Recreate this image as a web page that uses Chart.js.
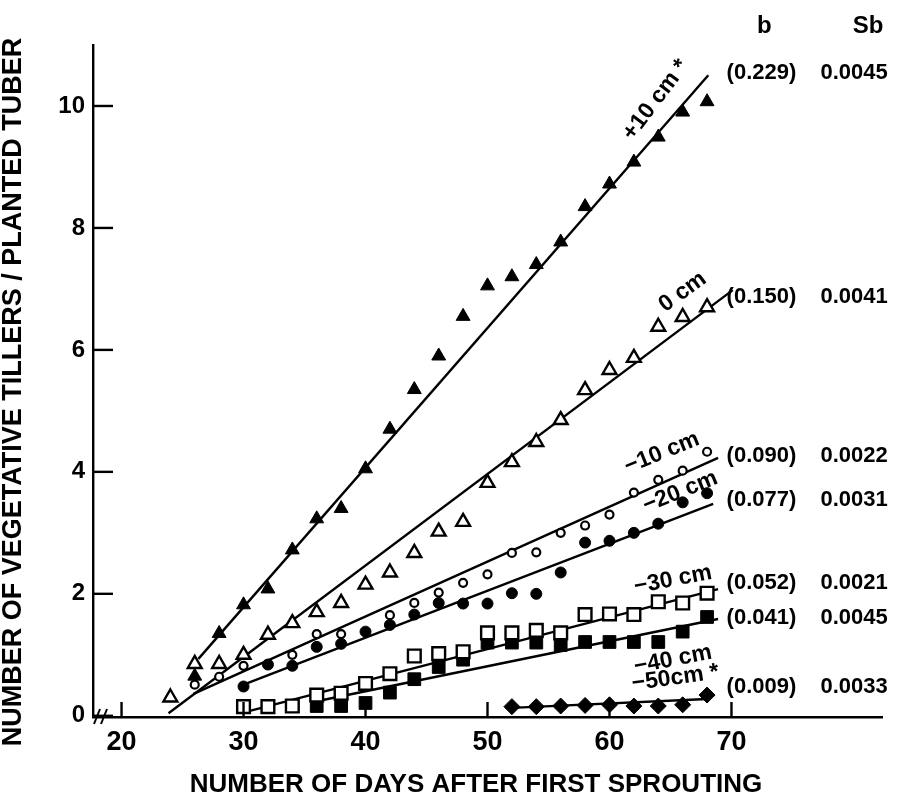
<!DOCTYPE html>
<html><head><meta charset="utf-8">
<script src="https://cdn.jsdelivr.net/npm/chart.js@4.4.1/dist/chart.umd.min.js"></script>
<style>html,body{margin:0;padding:0;background:#fff}#wrap{width:912px;height:803px;position:relative}</style>
</head><body><div id="wrap"><canvas id="c" width="912" height="803"></canvas></div>
<script>
// ---- data ----
const plus10Days = [26,28,30,32,34,36,38,40,42,44,46,48,50,52,54,56,58,60,62,64,66,68];
const plus10Vals = [0.65,1.35,1.82,2.08,2.72,3.23,3.40,4.05,4.70,5.35,5.90,6.55,7.05,7.20,7.40,7.77,8.35,8.72,9.08,9.49,9.90,10.07];
const zeroDays = [24,26,28,30,32,34,36,38,40,42,44,46,48,50,52,54,56,58,60,62,64,66,68];
const zeroVals = [0.30,0.85,0.85,1.00,1.33,1.52,1.70,1.85,2.15,2.35,2.67,3.02,3.18,3.82,4.16,4.49,4.85,5.34,5.67,5.87,6.38,6.54,6.70];
const minus10Days = [26,28,30,34,36,38,42,44,46,48,50,52,54,56,58,60,62,64,66,68];
const minus10Vals = [0.51,0.64,0.82,1.00,1.34,1.34,1.65,1.85,2.02,2.18,2.32,2.67,2.68,3.00,3.12,3.30,3.66,3.87,4.02,4.33];
const minus20Days = [30,32,34,36,38,40,42,44,46,48,50,52,54,56,58,60,62,64,66,68];
const minus20Vals = [0.48,0.84,0.82,1.13,1.18,1.38,1.49,1.66,1.85,1.84,1.84,2.01,2.00,2.35,2.84,2.87,3.00,3.15,3.50,3.65];
const minus30Days = [30,32,34,36,38,40,42,44,46,48,50,52,54,56,58,60,62,64,66,68];
const minus30Vals = [0.15,0.15,0.16,0.34,0.37,0.53,0.69,0.98,1.02,1.05,1.36,1.36,1.40,1.36,1.66,1.67,1.66,1.87,1.85,2.01];
const minus40Days = [36,38,40,42,44,46,48,50,52,54,56,58,60,62,64,66,68];
const minus40Vals = [0.16,0.16,0.21,0.38,0.60,0.80,0.92,1.20,1.20,1.20,1.16,1.21,1.21,1.21,1.21,1.38,1.62];
const minus50Days = [52,54,56,58,60,62,64,66,68];
const minus50Vals = [0.15,0.15,0.16,0.17,0.18,0.16,0.16,0.18,0.34];

// regression lines: y = a + b x over [from, to]
const depthNames = ['+10 cm *','0 cm','\u221210 cm','\u221220 cm','\u221230 cm','\u221240 cm','\u221250cm *'];
const slopeB   = [0.229,0.150,0.090,0.077,0.052,0.041,0.009];
const intercA  = [-5.09,-3.535,-1.971,-1.80,-1.507,-1.237,-0.338];
const lineFrom = [26.3,23.85,25.9,30.0,30.2,36.0,52.0];
const lineTo   = [68.1,70.1,68.9,68.5,68.9,68.9,68.0];
const bLabels  = ['(0.229)','(0.150)','(0.090)','(0.077)','(0.052)','(0.041)','(0.009)'];
const sbLabels = ['0.0045','0.0041','0.0022','0.0031','0.0021','0.0045','0.0033'];
const xTickVals = [20,30,40,50,60,70];
const yTickVals = [0,2,4,6,8,10];

// ---- label placement (data units) and styling ----
const depthLabelPos = [[63.8,10.1],[66.0,6.95],[64.3,4.31],[65.8,3.67],[65.2,2.23],[65.2,0.92],[65.4,0.62]];
const depthLabelAngle = [-53,-36,-22,-22,-11,-11,-8];
const rightLabelY = [10.54,6.87,4.26,3.54,2.18,1.61,0.475];
const FONT = '"Liberation Sans", Arial, sans-serif';

const markerStyles = [
  {pointStyle:'triangle', radius:8, fill:'#000', bw:1},
  {pointStyle:'triangle', radius:8, fill:'#fff', bw:2.4},
  {pointStyle:'circle', radius:4, fill:'#fff', bw:2.2},
  {pointStyle:'circle', radius:5.5, fill:'#000', bw:1},
  {pointStyle:'rect', radius:9, fill:'#fff', bw:2.4},
  {pointStyle:'rect', radius:9, fill:'#000', bw:1},
  {pointStyle:'rectRot', radius:8, fill:'#000', bw:1},
];
const seriesDays = [plus10Days,zeroDays,minus10Days,minus20Days,minus30Days,minus40Days,minus50Days];
const seriesVals = [plus10Vals,zeroVals,minus10Vals,minus20Vals,minus30Vals,minus40Vals,minus50Vals];

const datasets = [];
seriesDays.forEach((d,i)=>{
  const s = markerStyles[i];
  datasets.push({
    label: depthNames[i], type:'scatter', order:1,
    data: d.map((x,j)=>({x, y: seriesVals[i][j]})),
    pointStyle: s.pointStyle, pointRadius: s.radius, pointHoverRadius: s.radius,
    pointBackgroundColor: s.fill, pointBorderColor:'#000', pointBorderWidth: s.bw,
    showLine:false
  });
});
slopeB.forEach((b,i)=>{
  datasets.push({
    label: depthNames[i]+' fit', type:'line', order:2,
    data: [{x:lineFrom[i], y:intercA[i]+b*lineFrom[i]},{x:lineTo[i], y:intercA[i]+b*lineTo[i]}],
    borderColor:'#000', borderWidth:2.4, pointRadius:0, fill:false, tension:0
  });
});

const decor = {
  id:'decor',
  afterDraw(chart){
    const {ctx, scales:{x,y}, chartArea:ca} = chart;
    ctx.save();
    ctx.strokeStyle='#000'; ctx.fillStyle='#000'; ctx.lineWidth=2.4; ctx.lineCap='butt';
    // inward tick marks
    yTickVals.forEach(v=>{ const py=y.getPixelForValue(v); ctx.beginPath(); ctx.moveTo(ca.left,py); ctx.lineTo(ca.left+20,py); ctx.stroke(); });
    xTickVals.forEach(v=>{ const px=x.getPixelForValue(v); ctx.beginPath(); ctx.moveTo(px,ca.bottom); ctx.lineTo(px,ca.bottom-15); ctx.stroke(); });
    // axis break marks
    ctx.lineWidth=2;
    [ca.left+1, ca.left+8].forEach(bx=>{ ctx.beginPath(); ctx.moveTo(bx,ca.bottom+7); ctx.lineTo(bx+6,ca.bottom-8); ctx.stroke(); });
    // depth labels along the fitted lines
    depthNames.forEach((t,i)=>{
      const px=x.getPixelForValue(depthLabelPos[i][0]), py=y.getPixelForValue(depthLabelPos[i][1]);
      ctx.save(); ctx.translate(px,py); ctx.rotate(depthLabelAngle[i]*Math.PI/180);
      ctx.font='bold 23px '+FONT; ctx.textAlign='center'; ctx.textBaseline='middle';
      ctx.fillText(t,0,0); ctx.restore();
    });
    // right-hand columns
    ctx.font='bold 22px '+FONT; ctx.textBaseline='middle'; ctx.textAlign='left';
    bLabels.forEach((t,i)=>{
      const py=y.getPixelForValue(rightLabelY[i]);
      ctx.fillText(t, x.getPixelForValue(69.6), py);
      ctx.fillText(sbLabels[i], x.getPixelForValue(77.3), py);
    });
    ctx.font='bold 24px '+FONT; ctx.textAlign='center';
    ctx.fillText('b', x.getPixelForValue(72.7), 26);
    ctx.fillText('Sb', x.getPixelForValue(81.2), 26);
    // axis titles
    ctx.font='bold 26px '+FONT; ctx.textAlign='center'; ctx.textBaseline='middle';
    ctx.fillText('NUMBER OF DAYS AFTER FIRST SPROUTING', 476, 785);
    ctx.save(); ctx.translate(14,392); ctx.rotate(-Math.PI/2);
    ctx.font='bold 27px '+FONT;
    ctx.fillText('NUMBER OF VEGETATIVE TILLERS / PLANTED TUBER',0,0);
    ctx.restore();
    ctx.restore();
  }
};

new Chart(document.getElementById('c'), {
  type:'scatter',
  data:{datasets},
  options:{
    responsive:false, animation:false, devicePixelRatio:1,
    layout:{padding:{top:45,right:30,left:0,bottom:0}},
    plugins:{legend:{display:false}, tooltip:{enabled:false}},
    scales:{
      x:{type:'linear', min:17.66, max:82.34,
         grid:{display:false, drawTicks:false, tickLength:0},
         border:{display:true, color:'#000', width:2.4},
         afterBuildTicks:(s)=>{ s.ticks = xTickVals.map(v=>({value:v})); },
         afterFit:(s)=>{ s.height = 86; },
         ticks:{color:'#000', font:{family:FONT, size:27, weight:'bold'}, padding:9, maxRotation:0, autoSkip:false}},
      y:{type:'linear', min:-0.02, max:11.0,
         grid:{display:false, drawTicks:false, tickLength:0},
         border:{display:true, color:'#000', width:2.4},
         afterBuildTicks:(s)=>{ s.ticks = yTickVals.map(v=>({value:v})); },
         afterFit:(s)=>{ s.width = 93; },
         ticks:{color:'#000', font:{family:FONT, size:24, weight:'bold'}, padding:8}}
    }
  },
  plugins:[decor]
});
</script></body></html>
